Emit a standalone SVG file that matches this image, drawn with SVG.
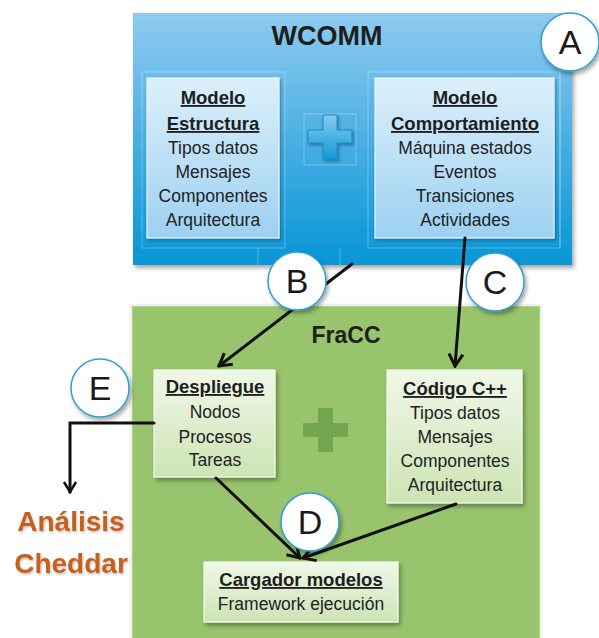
<svg xmlns="http://www.w3.org/2000/svg" width="599" height="638" viewBox="0 0 599 638">
  <defs>
    <linearGradient id="gWcomm" x1="0" y1="0" x2="0" y2="1">
      <stop offset="0" stop-color="#8fcbef"/>
      <stop offset="0.55" stop-color="#43ace2"/>
      <stop offset="1" stop-color="#0796d6"/>
    </linearGradient>
    <linearGradient id="gBlueBox" x1="0" y1="0" x2="0" y2="1">
      <stop offset="0" stop-color="#dcf0fb"/>
      <stop offset="1" stop-color="#9dd0f1"/>
    </linearGradient>
    <linearGradient id="gGreenBox" x1="0" y1="0" x2="0" y2="1">
      <stop offset="0" stop-color="#f0f7e8"/>
      <stop offset="1" stop-color="#cce4b4"/>
    </linearGradient>
    <linearGradient id="gPlus" x1="0" y1="0" x2="0" y2="1">
      <stop offset="0" stop-color="#86c9ef"/>
      <stop offset="1" stop-color="#129bd8"/>
    </linearGradient>
    <filter id="shadow" x="-20%" y="-20%" width="140%" height="140%">
      <feDropShadow dx="2" dy="3" stdDeviation="2" flood-color="#000" flood-opacity="0.35"/>
    </filter>
    <filter id="softShadow" x="-20%" y="-20%" width="140%" height="140%">
      <feDropShadow dx="1.5" dy="2" stdDeviation="1.5" flood-color="#0a3a5a" flood-opacity="0.45"/>
    </filter>
    <filter id="textGlow" x="-10%" y="-20%" width="120%" height="140%">
      <feDropShadow dx="1" dy="1.5" stdDeviation="1" flood-color="#000" flood-opacity="0.25"/>
    </filter>
    <marker id="arrow" viewBox="-14 -9 16 18" markerWidth="16" markerHeight="18" refX="0" refY="0" orient="auto" markerUnits="userSpaceOnUse">
      <path d="M-12,-7 L0,0 L-12,7" fill="none" stroke="#111" stroke-width="3" stroke-linejoin="miter"/>
    </marker>
    <marker id="arrowSmall" viewBox="-12 -8 14 16" markerWidth="14" markerHeight="16" refX="0" refY="0" orient="auto" markerUnits="userSpaceOnUse">
      <path d="M-10,-6 L0,0 L-10,6" fill="none" stroke="#111" stroke-width="2.5"/>
    </marker>
  </defs>
  <style>
    .title { font-family: "Liberation Sans", Arial, sans-serif; font-weight: bold; fill: #1e1e1e; text-anchor: middle; }
    .head { font-family: "Liberation Sans", Arial, sans-serif; font-weight: bold; font-size: 18.5px; fill: #1e1e1e; text-anchor: middle; text-decoration: underline; }
    .body { font-family: "Liberation Sans", Arial, sans-serif; font-size: 17.5px; fill: #222; text-anchor: middle; }
    .blueBox { fill: url(#gBlueBox); stroke: #eaf6fd; stroke-width: 1.2; filter: url(#softShadow); }
    .greenBox { fill: url(#gGreenBox); stroke: #f4faee; stroke-width: 1.2; filter: url(#shadow); }
    .ghost { fill: none; stroke: #ffffff; stroke-opacity: 0.28; stroke-width: 1; }
    .badge circle { fill: #fff; stroke: #2f9fd3; stroke-width: 1.5; filter: url(#shadow); }
    .badge text { font-family: "Liberation Sans", Arial, sans-serif; font-size: 34px; fill: #1a1a1a; text-anchor: middle; }
    .conn { fill: none; stroke: #111; stroke-width: 3; stroke-linecap: round; }
    .orange { font-family: "Liberation Sans", Arial, sans-serif; font-weight: bold; font-size: 28px; fill: #c8601c; text-anchor: middle; filter: url(#textGlow); }
  </style>

  <!-- WCOMM container -->
  <g id="wcomm">
    <rect x="133" y="13" width="439" height="252" fill="url(#gWcomm)" filter="url(#shadow)"/>
    <!-- faint layout guides inside the panel -->
    <rect class="ghost" x="142" y="72" width="143" height="176"/>
    <rect class="ghost" x="368" y="72" width="192" height="176"/>
    <rect class="ghost" x="304" y="114" width="52" height="51"/>
    <line class="ghost" x1="258" y1="248" x2="258" y2="265"/>
    <line class="ghost" x1="340" y1="248" x2="340" y2="265"/>
    <line class="ghost" x1="560" y1="14" x2="560" y2="248"/>
    <text class="title" x="327" y="45" font-size="27">WCOMM</text>
  </g>

  <g id="modelo-estructura">
    <rect class="blueBox" x="147" y="78" width="132" height="160"/>
    <text class="head" x="213" y="104">Modelo</text>
    <text class="head" x="213" y="130">Estructura</text>
    <text class="body" x="213" y="154">Tipos datos</text>
    <text class="body" x="213" y="178">Mensajes</text>
    <text class="body" x="213" y="202">Componentes</text>
    <text class="body" x="213" y="226">Arquitectura</text>
  </g>

  <g id="plus-blue">
    <path d="M323,115 h14 v15 h15 v13 h-15 v16 h-14 v-16 h-15 v-13 h15 z" fill="url(#gPlus)" stroke="#1a8cc4" stroke-width="1" filter="url(#softShadow)"/>
  </g>

  <g id="modelo-comportamiento">
    <rect class="blueBox" x="375" y="78" width="179" height="160"/>
    <text class="head" x="465" y="104">Modelo</text>
    <text class="head" x="465" y="130">Comportamiento</text>
    <text class="body" x="465" y="154">Máquina estados</text>
    <text class="body" x="465" y="178">Eventos</text>
    <text class="body" x="465" y="202">Transiciones</text>
    <text class="body" x="465" y="226">Actividades</text>
  </g>

  <!-- FraCC container -->
  <g id="fracc">
    <rect x="131" y="305" width="410" height="336" fill="#97c46c" stroke="#eef2ea" stroke-width="2.5"/>
    <text class="title" x="346" y="343" font-size="23">FraCC</text>
  </g>

  <g id="despliegue">
    <rect class="greenBox" x="154" y="370" width="121" height="107"/>
    <text class="head" x="215" y="393">Despliegue</text>
    <text class="body" x="215" y="418">Nodos</text>
    <text class="body" x="215" y="443">Procesos</text>
    <text class="body" x="215" y="466">Tareas</text>
  </g>

  <g id="plus-green">
    <path d="M318,408 h15 v15 h15 v14 h-15 v15 h-15 v-15 h-15 v-14 h15 z" fill="#74a64f"/>
  </g>

  <g id="codigo">
    <rect class="greenBox" x="387" y="370" width="135" height="133"/>
    <text class="head" x="455" y="395">Código C++</text>
    <text class="body" x="455" y="419">Tipos datos</text>
    <text class="body" x="455" y="443">Mensajes</text>
    <text class="body" x="455" y="467">Componentes</text>
    <text class="body" x="455" y="491">Arquitectura</text>
  </g>

  <g id="cargador">
    <rect class="greenBox" x="204" y="562" width="194" height="60"/>
    <text class="head" x="301" y="586">Cargador modelos</text>
    <text class="body" x="301" y="610">Framework ejecución</text>
  </g>

  <g id="analisis">
    <text class="orange" x="71" y="531">Análisis</text>
    <text class="orange" x="71" y="573">Cheddar</text>
  </g>

  <!-- connectors -->
  <g id="connectors">
    <line class="conn" x1="352" y1="264" x2="219" y2="366" marker-end="url(#arrow)"/>
    <line class="conn" x1="465" y1="238" x2="455" y2="366" marker-end="url(#arrow)"/>
    <line class="conn" x1="216" y1="478" x2="300" y2="558" marker-end="url(#arrow)"/>
    <line class="conn" x1="456" y1="504" x2="303" y2="558" marker-end="url(#arrow)"/>
    <polyline class="conn" points="154,423 70,423 70,492" stroke-width="2.5" stroke-linecap="butt" marker-end="url(#arrowSmall)"/>
  </g>

  <!-- letter badges -->
  <g id="badge-A" class="badge">
    <circle cx="570" cy="42" r="29"/>
    <text x="570" y="54">A</text>
  </g>
  <g id="badge-B" class="badge">
    <circle cx="297" cy="281" r="29"/>
    <text x="297" y="293">B</text>
  </g>
  <g id="badge-C" class="badge">
    <circle cx="495" cy="282" r="29"/>
    <text x="495" y="294">C</text>
  </g>
  <g id="badge-D" class="badge">
    <circle cx="310" cy="522" r="29"/>
    <text x="310" y="534">D</text>
  </g>
  <g id="badge-E" class="badge">
    <circle cx="100" cy="388" r="29"/>
    <text x="100" y="400">E</text>
  </g>
</svg>
